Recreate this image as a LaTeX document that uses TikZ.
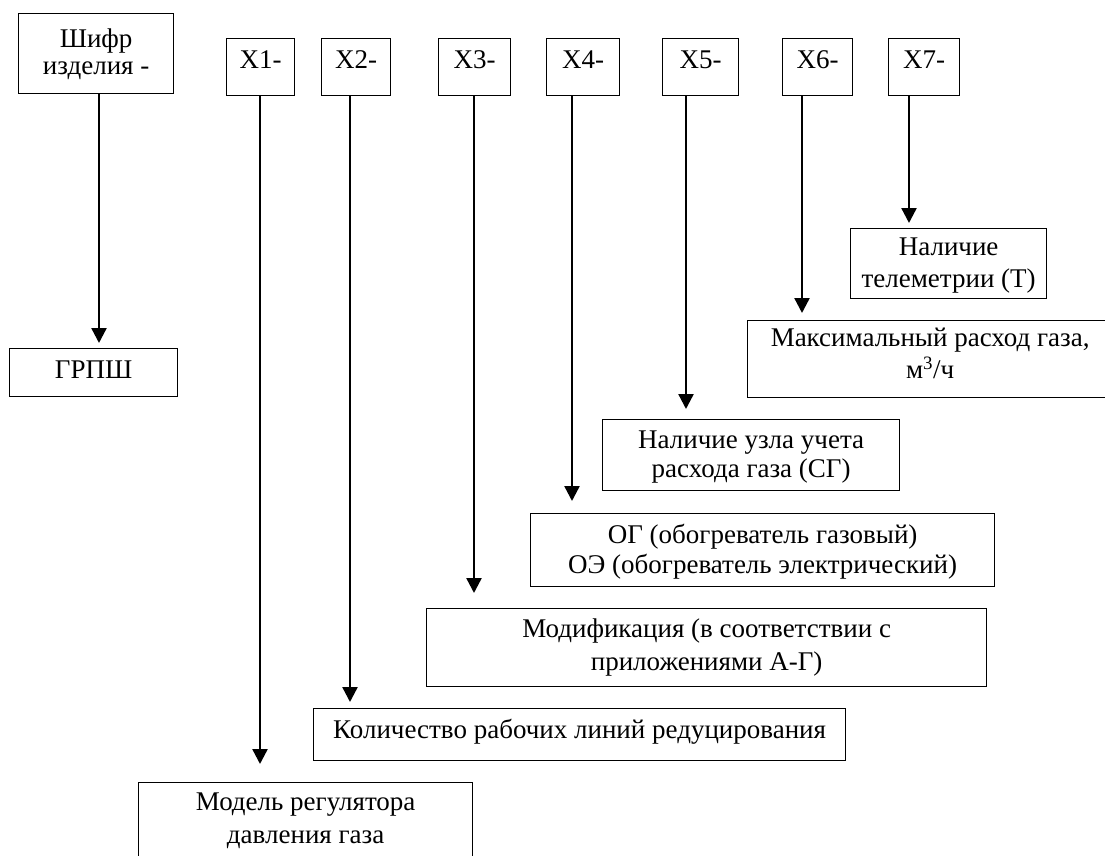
\documentclass[tikz,border=0pt]{standalone}
\usepackage{fontspec}
\setmainfont{Liberation Serif}
\usetikzlibrary{arrows.meta}
\newcommand{\boxlines}[1]{\begin{tabular}[t]{@{}c@{}}#1\end{tabular}}
\begin{document}
\begin{tikzpicture}[x=1pt,y=-1pt,
  box/.style={draw, line width=1.3pt, rectangle, inner sep=0pt, anchor=north west},
  xbox/.style={box, text height=30pt, text depth=27pt, font=\fontsize{27}{31}\selectfont},
  arr/.style={line width=2.4pt, -{Triangle[width=15pt,length=15pt]}}]
\useasboundingbox (0,0) rectangle (1105,856);
\clip (0,0) rectangle (1105,856);
\fill[white] (0,0) rectangle (1105,856);

% top row
\node[box, minimum width=155pt, text height=34pt, text depth=46pt, font=\fontsize{27}{27}\selectfont] (S) at (18,13) {\boxlines{Шифр\\изделия -}};
\node[xbox, minimum width=68pt] (X1) at (226,38) {X1-};
\node[xbox, minimum width=69pt] (X2) at (321,38) {X2-};
\node[xbox, minimum width=72pt] (X3) at (438,38) {X3-};
\node[xbox, minimum width=73pt] (X4) at (546,38) {X4-};
\node[xbox, minimum width=76pt] (X5) at (662,38) {X5-};
\node[xbox, minimum width=70pt] (X6) at (782,38) {X6-};
\node[xbox, minimum width=71pt] (X7) at (888,38) {X7-};

% target boxes
\node[box, minimum width=168pt, text height=30pt, text depth=18pt, font=\fontsize{27}{31}\selectfont] (G) at (9,348) {ГРПШ};
\node[box, minimum width=196pt, text height=27pt, text depth=43pt, font=\fontsize{27}{32}\selectfont] (Tel) at (850,228) {\boxlines{Наличие\\телеметрии (Т)}};
\node[box, minimum width=365pt, text height=26pt, text depth=51pt, font=\fontsize{27}{32}\selectfont] (Max) at (747,320) {\boxlines{Максимальный расход газа,\\м\textsuperscript{3}/ч}};
\node[box, minimum width=297pt, text height=29pt, text depth=42pt, font=\fontsize{27}{29}\selectfont] (Uz) at (602,419) {\boxlines{Наличие узла учета\\расхода газа (СГ)}};
\node[box, minimum width=464pt, text height=30pt, text depth=43pt, font=\fontsize{27}{30}\selectfont] (OG) at (530,513) {\boxlines{ОГ (обогреватель газовый)\\ОЭ (обогреватель электрический)}};
\node[box, minimum width=560pt, text height=29pt, text depth=49pt, font=\fontsize{27}{33}\selectfont] (Mod) at (426,608) {\boxlines{Модификация (в соответствии с\\приложениями А-Г)}};
\node[box, minimum width=532pt, text height=30pt, text depth=22pt, font=\fontsize{27}{31}\selectfont] (Kol) at (313,708) {Количество рабочих линий редуцирования};
\node[box, minimum width=334pt, text height=28pt, text depth=52pt, font=\fontsize{27}{33}\selectfont] (Rg) at (138,782) {\boxlines{Модель регулятора\\давления газа}};

% arrow tips
\coordinate (tS) at (99,343);
\coordinate (t1) at (260,764);
\coordinate (t2) at (350,702);
\coordinate (t3) at (474,593);
\coordinate (t4) at (572,501);
\coordinate (t5) at (686,409);
\coordinate (t6) at (802,313);
\coordinate (t7) at (909,223);

\draw[arr] (S.south -| tS) -- (tS);
\draw[arr] (X1.south -| t1) -- (t1);
\draw[arr] (X2.south -| t2) -- (t2);
\draw[arr] (X3.south -| t3) -- (t3);
\draw[arr] (X4.south -| t4) -- (t4);
\draw[arr] (X5.south -| t5) -- (t5);
\draw[arr] (X6.south -| t6) -- (t6);
\draw[arr] (X7.south -| t7) -- (t7);
\end{tikzpicture}
\end{document}
